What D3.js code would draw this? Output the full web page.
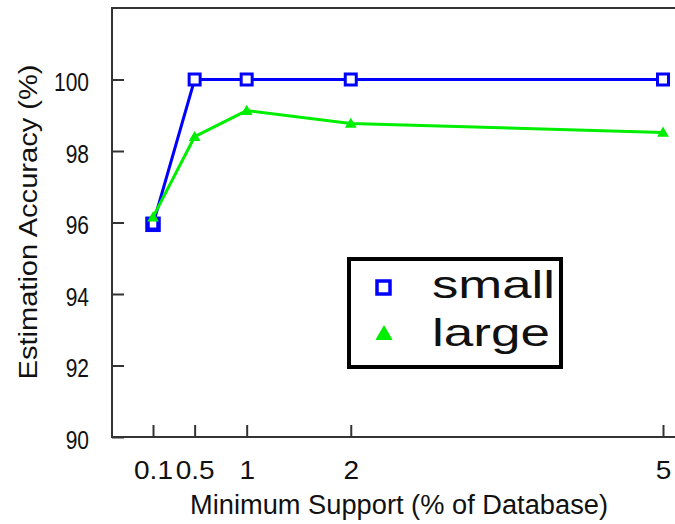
<!DOCTYPE html>
<html lang="en">
<head>
<meta charset="UTF-8" />
<script src="https://d3js.org/d3.v7.min.js"></script>
<style>
  body { margin:0; background:#fff; }
  text { font-family: "Liberation Sans", Arial, sans-serif; fill:#111; }
</style>
</head>
<body>
<script>
// data
var supports = [0.1, 0.5, 1, 2, 5];
var xTickLabels = ["0.1", "0.5", "1", "2", "5"];
var smallAcc = [95.95, 100, 100, 100, 100];
var largeAcc = [96.15, 98.4, 99.13, 98.77, 98.52];
var yTicks = [90, 92, 94, 96, 98, 100];
var seriesNames = ["small", "large"];

var W = 675, H = 524;
var pLeft = 112, pRight = 676, pTop = 8, pBottom = 437;

var svg = d3.select("body").append("svg").attr("width", W).attr("height", H);

var x = d3.scaleLinear().domain([-0.294, 5.12]).range([pLeft, pLeft + (5.12 + 0.294) * 104.08]);
var y = d3.scaleLinear().domain([90, 102]).range([pBottom, pTop]);

// frame
svg.append("rect").attr("x", pLeft).attr("y", pTop)
  .attr("width", pRight - pLeft).attr("height", pBottom - pTop)
  .attr("fill", "none").attr("stroke", "#333").attr("stroke-width", 2);

var gy = svg.append("g").attr("transform", "translate(" + pLeft + ",0)")
  .call(d3.axisLeft(y).tickValues(yTicks).tickSizeInner(-12).tickSizeOuter(0).tickPadding(23));
var gx = svg.append("g").attr("transform", "translate(0," + pBottom + ")")
  .call(d3.axisBottom(x).tickValues(supports).tickFormat(function(d, i){ return xTickLabels[i]; })
    .tickSizeInner(-12).tickSizeOuter(0).tickPadding(24));
[gx, gy].forEach(function(g){
  g.attr("font-family", null).attr("font-size", null);
  g.select(".domain").remove();
  g.selectAll(".tick line").attr("stroke", "#333").attr("stroke-width", 2);
  g.selectAll(".tick text").style("font-size", "25px").attr("fill", "#111");
});
// y labels look condensed, x labels a bit wide in the original
gy.selectAll(".tick text").attr("dy", "0.45em").attr("x", -23 / 0.84).attr("transform", "scale(0.84,1)");
gx.selectAll(".tick text").attr("transform", "scale(1.12,1)");

// lines
var line = d3.line().x(function(d){ return x(d[0]); }).y(function(d){ return y(d[1]); });
var smallPts = supports.map(function(s, i){ return [s, smallAcc[i]]; });
var largePts = supports.map(function(s, i){ return [s, largeAcc[i]]; });

svg.append("path").datum(smallPts).attr("d", line)
  .attr("fill", "none").attr("stroke", "#0000ff").attr("stroke-width", 3);
svg.selectAll(".sq").data(smallPts).enter().append("rect")
  .attr("x", function(d){ return x(d[0]) - 5.5; }).attr("y", function(d){ return y(d[1]) - 5.5; })
  .attr("width", 11).attr("height", 11)
  .attr("fill", "#fff").attr("stroke", "#0000ff")
  .attr("stroke-width", function(d, i){ return i === 0 ? 4.5 : 3; });

svg.append("path").datum(largePts).attr("d", line)
  .attr("fill", "none").attr("stroke", "#00ee00").attr("stroke-width", 3);
var tri = d3.symbol().type(d3.symbolTriangle).size(60);
svg.selectAll(".tri").data(largePts).enter().append("path")
  .attr("d", tri).attr("transform", function(d){ return "translate(" + x(d[0]) + "," + (y(d[1]) + 1) + ")"; })
  .attr("fill", "#00ee00");

// axis titles
svg.append("text").attr("x", 399).attr("y", 514).attr("text-anchor", "middle")
  .attr("font-size", 27).attr("textLength", 418).attr("lengthAdjust", "spacingAndGlyphs")
  .text("Minimum Support (% of Database)");
svg.append("text").attr("transform", "translate(37,222) rotate(-90)").attr("text-anchor", "middle")
  .attr("font-size", 25).attr("textLength", 315).attr("lengthAdjust", "spacingAndGlyphs")
  .text("Estimation Accuracy (%)");

// legend
var lg = svg.append("g");
lg.append("rect").attr("x", 349).attr("y", 259).attr("width", 212).attr("height", 108)
  .attr("fill", "#fff").attr("stroke", "#000").attr("stroke-width", 4);
lg.append("rect").attr("x", 377).attr("y", 281).attr("width", 13).attr("height", 13)
  .attr("fill", "#fff").attr("stroke", "#0000ff").attr("stroke-width", 3.5);
lg.append("path").attr("d", d3.symbol().type(d3.symbolTriangle).size(130))
  .attr("transform", "translate(384,335)").attr("fill", "#00ee00");
lg.selectAll(".lt").data(seriesNames).enter().append("text")
  .attr("x", 432).attr("y", function(d, i){ return 298 + i * 48; })
  .attr("font-size", 39).attr("lengthAdjust", "spacingAndGlyphs")
  .attr("textLength", function(d, i){ return i === 0 ? 123 : 118; })
  .text(function(d){ return d; });
</script>
</body>
</html>
